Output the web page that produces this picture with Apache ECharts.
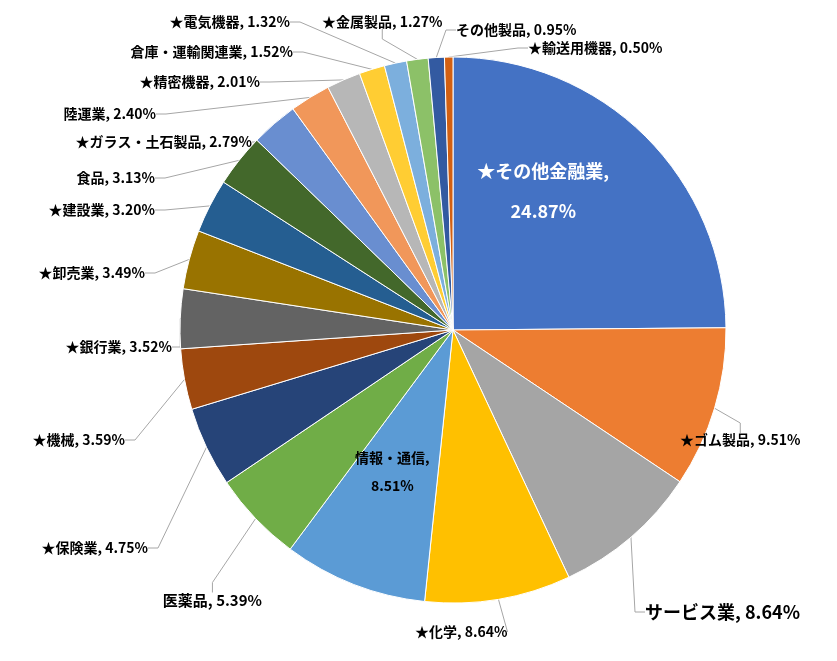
<!DOCTYPE html>
<html><head><meta charset="utf-8">
<script src="https://cdn.jsdelivr.net/npm/echarts@6/dist/echarts.min.js"></script>
<style>html,body{margin:0;padding:0;background:#fff}#c{width:837px;height:661px}</style>
</head><body><div id="c"></div>
<script>
const categories = ['★その他金融業','★ゴム製品','サービス業','★化学','情報・通信','医薬品','★保険業','★機械','★銀行業','★卸売業','★建設業','食品','★ガラス・土石製品','陸運業','★精密機器','倉庫・運輸関連業','★電気機器','★金属製品','その他製品','★輸送用機器'];
const values = [24.87,9.51,8.64,8.64,8.51,5.39,4.75,3.59,3.52,3.49,3.20,3.13,2.79,2.40,2.01,1.52,1.32,1.27,0.95,0.50];
const colors = ['#4472C4','#ED7D31','#A5A5A5','#FFC000','#5B9BD5','#70AD47','#264478','#9E480E','#636363','#997300','#255E91','#43682B','#698ED0','#F1975A','#B7B7B7','#FFCD33','#7CAFDD','#8CC168','#335AA1','#D26012'];
// label anchor [x, y, align]; null = inside
const labelPos = [null,[680,440,'left'],[645,612,'left'],[415,632,'left'],null,[262,600,'right'],[148,548,'right'],[125,440,'right'],[172,347,'right'],[145,273,'right'],[155,210,'right'],[155,178,'right'],[252,142,'right'],[156,114,'right'],[260,82,'right'],[293,52,'right'],[290,22,'right'],[322,22,'left'],[456,30,'left'],[528,48,'left']];
const fmt = p => p.name + ', ' + p.value.toFixed(2) + '%';
const fmt2 = p => p.name + ',\n' + p.value.toFixed(2) + '%';
const chart = echarts.init(document.getElementById('c'));
const data = categories.map((n,i)=>{
  const d = {name:n, value:values[i], itemStyle:{color:colors[i]}};
  if(i===0){d.label={position:'inside',color:'#fff',fontSize:18,lineHeight:40,formatter:fmt2,offset:[-8,-40]};d.labelLine={show:false};}
  if(i===4){d.label={position:'inside',color:'#000',fontSize:14,lineHeight:28,formatter:fmt2,offset:[-10,12]};d.labelLine={show:false};}
  if(i===2){d.label={fontSize:18};}
  if(i===5){d.label={fontSize:15};}
  return d;
});
chart.setOption({
  animation:false,
  series:[{type:'pie',center:[453,330],radius:[0,273],startAngle:90,clockwise:true,
    itemStyle:{borderColor:'#fff',borderWidth:1},
    label:{show:true,formatter:fmt,overflow:'none',fontFamily:'Noto Sans CJK JP',fontWeight:'bold',fontSize:14,color:'#000'},
    labelLine:{show:true,length:20,length2:10,lineStyle:{color:'#A6A6A6',width:1}},
    labelLayout:function(p){const lp=labelPos[p.dataIndex];if(!lp)return {};return {x:lp[0],y:lp[1],align:lp[2],verticalAlign:'middle'};},
    data:data}]
});
</script></body></html>
